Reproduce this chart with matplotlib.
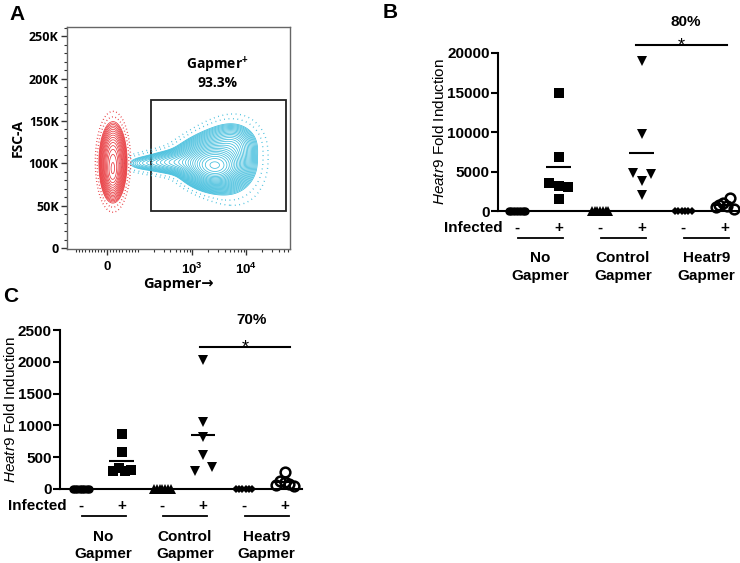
import numpy as np
import matplotlib
matplotlib.use("Agg")
import matplotlib.pyplot as plt
from matplotlib.scale import SymmetricalLogTransform
from matplotlib.ticker import FixedLocator, AutoMinorLocator, NullFormatter

plt.rcParams['font.family'] = ['Liberation Sans', 'DejaVu Sans']
plt.rcParams['mathtext.fontset'] = 'custom'
plt.rcParams['mathtext.rm'] = 'Liberation Sans'
plt.rcParams['mathtext.it'] = 'Liberation Sans:italic'
plt.rcParams['mathtext.bf'] = 'Liberation Sans:bold'

# ---- panel A : flow populations
# u_centre (display decades), y_centre (K), sd_u, sd_y (K), sd_y growth per decade, weight
blue_pops = [
    (2.00, 97, 0.25, 11, 0, 1.00),
    (1.92, 104, 0.37, 17, 9, 0.35),
    (2.35, 122, 0.20, 11, 0, 0.13),
    (1.20, 101, 0.30, 7, 0, 0.15),
    (0.65, 100, 0.20, 5, 0, 0.05),
]
red_pops = [
    (0.11, 102, 0.11, 20, 0, 1.0),
    (0.10, 85, 0.08, 12, 0, 0.4),
]
gate_x = [176, 55000]
gate_y = [44000, 175000]
gate_text = ['Gapmer$^{\\mathbf{+}}$', '93.3%']
a_yticks = [0, 50000, 100000, 150000, 200000, 250000]
a_ylabels = ['0', '50K', '100K', '150K', '200K', '250K']

# ---- panels B and C : Heatr9 fold induction (points listed left to right within a row)
groups = ['No\nGapmer', 'Control\nGapmer', 'Heatr9\nGapmer']
infected = ['-', '+', '-', '+', '-', '+']
b_values = [
    [0, 0, 0, 0, 0, 0, 0],
    [15000, 6800, 3500, 3200, 3100, 1500],
    [0, 0, 0, 0, 0, 0, 0],
    [19000, 9800, 4800, 3800, 4700, 2000],
    [0, 0, 0, 0, 0, 0],
    [500, 800, 1000, 600, 1700, 200],
]
b_yticks = [0, 5000, 10000, 15000, 20000]
b_pct = '80%'
c_values = [
    [0, 0, 0, 0, 0, 0, 0, 0],
    [870, 580, 290, 330, 280, 300],
    [0, 0, 0, 0, 0, 0, 0],
    [2030, 1060, 820, 530, 280, 340],
    [0, 0, 0, 0, 0, 0],
    [270, 60, 130, 110, 80, 40],
]
c_yticks = [0, 500, 1000, 1500, 2000, 2500]
c_pct = '70%'

markers = ['o', 's', '^', 'v', 'D', 'o']
msizes = [6, 6.5, 7, 7.5, 4.5, 7]

W, H = 740, 563
fig = plt.figure(figsize=(W / 100, H / 100), dpi=100)


def px_rect(l, t, r, b):
    return [l / W, 1 - b / H, (r - l) / W, (b - t) / H]


def spread(vals, thresh):
    # side-by-side placement of points that would overlap (like Prism scatter)
    v = np.asarray(vals, float)
    order = np.argsort(v, kind='stable')
    s = v[order]
    offs = np.zeros(len(v))
    start = 0
    for i in range(1, len(s) + 1):
        if i == len(s) or s[i] - s[i - 1] > thresh:
            idx = np.sort(order[start:i])
            n = len(idx)
            if n > 1:
                same = s[start] == s[i - 1]
                step = 0.4 / (n - 1) if same else min(0.42, 0.44 / (n - 1))
                offs[idx] = (np.arange(n) - (n - 1) / 2) * step
            start = i
    return offs


# ================= panel A
axA = fig.add_axes(px_rect(67, 27, 290, 249))
axA.set_xscale('symlog', linthresh=100, linscale=0.513)
axA.set_xlim(-148, 64600)
axA.set_ylim(-1200, 261000)

tr = SymmetricalLogTransform(10, 100, 0.513).inverted()
uu = np.linspace(-0.74, 3.38, 420)
yy = np.linspace(0, 261, 420)
U, Yk = np.meshgrid(uu, yy)
X = tr.transform(U.ravel() * 100).reshape(U.shape)
Y = Yk * 1000


def density(pops):
    z = np.zeros_like(U)
    for cu, cy, su, sy, gy, w in pops:
        sy_u = np.clip(sy + gy * (U - cu), 4, None)
        z += w * np.exp(-0.5 * (((U - cu) / su) ** 2 + ((Yk - cy) / sy_u) ** 2))
    return z / z.max()


zb = density(blue_pops)
zr = density(red_pops)
blue = '#3dbcdc'
red = '#e8383d'
axA.contour(X, Y, zb, levels=[0.005, 0.011], colors=blue, linewidths=1.0,
            linestyles=[(0, (0.6, 2.6))])
axA.contour(X, Y, zb, levels=np.geomspace(0.025, 0.95, 26), colors=blue, linewidths=0.55)
axA.contour(X, Y, zr, levels=[0.01, 0.025], colors=red, linewidths=1.0,
            linestyles=[(0, (0.6, 1.8))])
axA.contour(X, Y, zr, levels=np.geomspace(0.05, 0.95, 16), colors=red, linewidths=0.55)

axA.add_patch(plt.Rectangle((gate_x[0], gate_y[0]), gate_x[1] - gate_x[0], gate_y[1] - gate_y[0],
                            fill=False, ec='#222222', lw=1.3))
axA.text(3000, 216000, gate_text[0], ha='center', va='center', fontsize=10, fontweight='bold',
         family=['Open Sans', 'DejaVu Sans'])
axA.text(3000, 195000, gate_text[1], ha='center', va='center', fontsize=10, fontweight='bold',
         family=['Open Sans', 'DejaVu Sans'])

axA.yaxis.set_major_locator(FixedLocator(a_yticks))
axA.set_yticklabels(a_ylabels, fontsize=9, fontweight='bold', family=['Open Sans', 'DejaVu Sans'])
axA.yaxis.set_minor_locator(AutoMinorLocator(5))
axA.xaxis.set_major_locator(FixedLocator([0, 1000, 10000]))
axA.set_xticklabels(['0', r'$\mathbf{10^3}$', r'$\mathbf{10^4}$'], fontsize=9.5, fontweight='bold')
minors = []
for k in range(1, 5):
    for m in range(1, 10):
        for sgn in (-1, 1):
            v = sgn * m * 10 ** k
            if -148 < v < 64600 and v not in (1000, 10000):
                minors.append(v)
axA.xaxis.set_minor_locator(FixedLocator(sorted(minors)))
axA.xaxis.set_minor_formatter(NullFormatter())
axA.tick_params(which='major', direction='out', length=4, width=1, color='#333333', pad=2)
axA.tick_params(which='minor', direction='out', length=2.5, width=0.8, color='#333333')
axA.tick_params(axis='x', which='major', pad=5)
for s in axA.spines.values():
    s.set_color('#666666')
    s.set_linewidth(1)
axA.set_ylabel('FSC-A', fontsize=10, fontweight='bold', family=['Open Sans', 'DejaVu Sans'], labelpad=3)
axA.set_xlabel('Gapmer\u2192', fontsize=10.5, fontweight='bold', family=['Open Sans', 'DejaVu Sans'],
               labelpad=0)


# ================= panels B, C
def dot_panel(rect, values, yticks, pct, xlim, bar, pct_xy):
    ax = fig.add_axes(rect)
    ymax = yticks[-1]
    x_pos = np.arange(len(values))
    for i, vals in enumerate(values):
        offs = spread(vals, 0.05 * ymax)
        filled = i != 5
        ax.plot(x_pos[i] + offs, vals, linestyle='none', marker=markers[i], ms=msizes[i],
                mfc='black' if filled else 'none', mec='black', mew=0 if filled else 1.8,
                clip_on=False, zorder=3)
        if infected[i] == '+':
            ax.hlines(np.mean(vals), x_pos[i] - 0.3, x_pos[i] + 0.3, colors='black', lw=1.5, zorder=4)
    ax.set_xlim(*xlim)
    ax.set_ylim(0, ymax)
    ax.spines['top'].set_visible(False)
    ax.spines['right'].set_visible(False)
    ax.spines['left'].set_linewidth(1.5)
    ax.spines['bottom'].set_linewidth(1.5)
    ax.set_xticks([])
    ax.set_yticks(yticks)
    ax.set_yticklabels([str(t) for t in yticks], fontsize=11, fontweight='bold')
    ax.tick_params(axis='y', direction='out', length=5, width=1.5, pad=1)
    ax.set_ylabel(r'$\it{Heatr9}$ Fold Induction', fontsize=11, labelpad=0)

    tb = ax.get_xaxis_transform()
    ax.text(-0.35, -0.105, 'Infected', transform=tb, ha='right', va='center', fontsize=11,
            fontweight='bold')
    for i, lab in enumerate(infected):
        ax.text(x_pos[i], -0.105, lab, transform=tb, ha='center', va='center', fontsize=11,
                fontweight='bold')
    for g, name in enumerate(groups):
        x0, x1 = x_pos[2 * g], x_pos[2 * g + 1]
        ax.plot([x0 + 0.02, x1 + 0.1], [-0.17, -0.17], color='black', lw=1.3, transform=tb,
                clip_on=False)
        ax.text((x0 + x1) / 2 + 0.05, -0.355, name, transform=tb, ha='center', va='center',
                fontsize=11, fontweight='bold', linespacing=1.3)

    ax.plot([bar[0], bar[1]], [bar[2], bar[2]], color='black', lw=1.5, clip_on=False)
    ax.annotate('*', ((bar[0] + bar[1]) / 2, bar[2]), xytext=(0, -4), textcoords='offset points',
                ha='center', va='baseline', fontsize=13, annotation_clip=False)
    ax.text(pct_xy[0], pct_xy[1], pct, ha='center', va='center', fontsize=11, fontweight='bold')
    return ax


axB = dot_panel(px_rect(498, 53, 737, 211), b_values, b_yticks, b_pct,
                (-0.457, 5.29), (2.86, 5.05, 21000), (4.06, 23900))
axC = dot_panel(px_rect(60, 330, 302, 489), c_values, c_yticks, c_pct,
                (-0.51, 5.42), (2.92, 5.12, 2233), (4.19, 2657))

for lab, x, y in [('A', 9, 20), ('B', 383, 18), ('C', 3, 302)]:
    fig.text(x / W, 1 - y / H, lab, fontsize=15, fontweight='bold', ha='left', va='baseline')

fig.savefig('out.png', dpi=100)
